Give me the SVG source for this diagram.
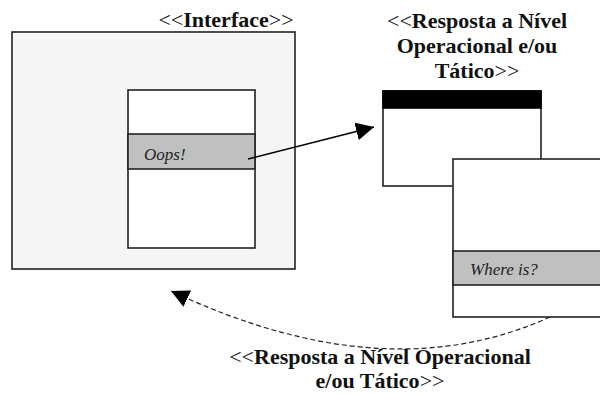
<svg xmlns="http://www.w3.org/2000/svg" width="600" height="394" viewBox="0 0 600 394">
  <defs>
    <marker id="head" viewBox="0 0 10 10" refX="10" refY="5" markerWidth="18" markerHeight="18" markerUnits="userSpaceOnUse" orient="auto">
      <path d="M0,0 L10,5 L0,10 Z" fill="#000"/>
    </marker>
    <style>
      .box { stroke: #222; stroke-width: 1.6; }
      .band { fill: #c0c0c0; stroke: #222; stroke-width: 1.6; }
      .title { font-family: "Liberation Serif", "Times New Roman", serif; font-size: 22px; fill: #111; text-anchor: middle; }
      .title .b { font-weight: bold; }
      .item { font-family: "Liberation Serif", "Times New Roman", serif; font-style: italic; font-size: 17px; fill: #222; }
      .link { fill: none; stroke: #000; stroke-width: 1.6; }
      .dash { fill: none; stroke: #222; stroke-width: 1.2; stroke-dasharray: 5 3; }
    </style>
  </defs>

  <!-- interface window with its message panel -->
  <g id="interface">
    <rect class="box" x="12" y="32" width="283" height="237" fill="#f5f5f5"/>
    <rect class="box" x="128" y="90" width="127" height="158" fill="#fff"/>
    <rect class="band" x="128" y="134" width="127" height="35"/>
    <text class="item" x="144" y="160">Oops!</text>
    <text class="title" x="226" y="27">&lt;&lt;<tspan class="b">Interface</tspan>&gt;&gt;</text>
  </g>

  <!-- response window (back) -->
  <g id="resposta-topo">
    <text class="title" x="477" y="28">&lt;&lt;<tspan class="b">Resposta a Nível</tspan></text>
    <text class="title b" x="477" y="53" font-weight="bold">Operacional e/ou</text>
    <text class="title" x="477" y="78"><tspan class="b">Tático</tspan>&gt;&gt;</text>
    <rect class="box" x="383" y="91" width="158" height="95" fill="#fff"/>
    <rect x="383" y="91" width="158" height="17" fill="#000" stroke="#000" stroke-width="1.6"/>
  </g>

  <!-- response window (front) -->
  <g id="resposta-frente">
    <rect class="box" x="453" y="159" width="160" height="158" fill="#fff"/>
    <rect class="band" x="453" y="251" width="160" height="34"/>
    <text class="item" x="470" y="275">Where is?</text>
  </g>

  <!-- connectors -->
  <g id="connectors">
    <path class="link" d="M248,159 L374,127" marker-end="url(#head)"/>
    <path class="dash" d="M550,317 Q385,392 171,291" marker-end="url(#head)"/>
  </g>

  <!-- label of the return flow -->
  <g id="rotulo-retorno">
    <text class="title" x="380" y="364">&lt;&lt;<tspan class="b">Resposta a Nível Operacional</tspan></text>
    <text class="title" x="380" y="388"><tspan class="b">e/ou Tático</tspan>&gt;&gt;</text>
  </g>
</svg>
